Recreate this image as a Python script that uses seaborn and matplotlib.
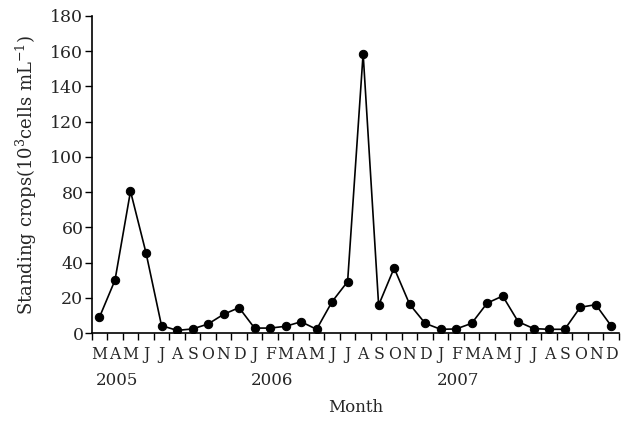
import numpy as np
import pandas as pd
import matplotlib
matplotlib.use('Agg')
import matplotlib.pyplot as plt
import matplotlib.transforms as mtransforms
import seaborn as sns

# monthly values, Mar 2005 - Dec 2007
months = ['M', 'A', 'M', 'J', 'J', 'A', 'S', 'O', 'N', 'D',
          'J', 'F', 'M', 'A', 'M', 'J', 'J', 'A', 'S', 'O', 'N', 'D',
          'J', 'F', 'M', 'A', 'M', 'J', 'J', 'A', 'S', 'O', 'N', 'D']
crops = [9, 30, 80.5, 45.5, 4.2, 1.5, 2.3, 5.1, 10.6, 14.4,
         2.8, 2.8, 3.8, 6.4, 2.1, 17.8, 29.2, 158.7, 15.8, 36.9, 16.3, 5.5,
         2.1, 2.3, 5.5, 17, 21, 6.4, 2.5, 2.1, 2.1, 14.6, 16.1, 4]
years = ['2005', '2006', '2007']
year_start = [0, 10, 22]

df = pd.DataFrame({'pos': np.arange(len(crops)) + 0.5, 'crops': crops})

sns.set_style('ticks')
plt.rcParams['font.family'] = ['DejaVu Serif']
plt.rcParams['mathtext.fontset'] = 'dejavuserif'

fig = plt.figure(figsize=(6.24, 4.21), dpi=100)
ax = fig.add_axes([0.147, 0.209, 0.845, 0.753])
sns.lineplot(data=df, x='pos', y='crops', color='black', marker='o',
             markersize=6, markeredgecolor='black', linewidth=1.2, ax=ax)

ax.set_xlim(0, len(months))
ax.set_ylim(0, 180)
ax.set_yticks(np.arange(0, 181, 20))
ax.set_xticks(np.arange(0, len(months) + 1))
ax.set_xticklabels([])
ax.set_xticks(np.arange(len(months)) + 0.5, minor=True)
ax.set_xticklabels(months, minor=True, fontsize=12.5, fontstretch='condensed')
ax.tick_params(axis='x', which='minor', length=0, pad=9)
ax.tick_params(axis='x', which='major', length=5, width=1, color='black', direction='out')
ax.tick_params(axis='y', length=5, width=1, color='black', labelsize=12.5, pad=1)
for s in ['left', 'bottom']:
    ax.spines[s].set_color('black')
    ax.spines[s].set_linewidth(1.2)
sns.despine(ax=ax)

trans = mtransforms.blended_transform_factory(ax.transData, ax.transAxes)
for y, st in zip(years, year_start):
    ax.text(st + 0.25, -0.15, y, transform=trans, ha='left', va='center', fontsize=12)

ax.set_xlabel('Month', fontsize=12, labelpad=26)
ax.set_ylabel('Standing crops(10$^3$cells mL$^{-1}$)', fontsize=13, labelpad=8)

fig.savefig('out.png', dpi=100)
